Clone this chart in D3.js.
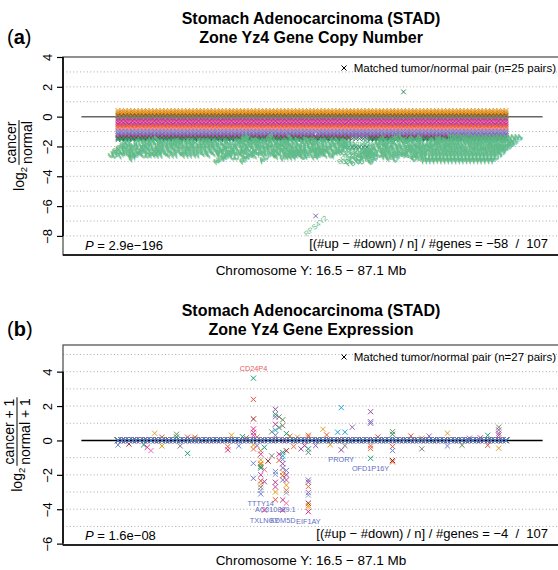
<!DOCTYPE html>
<html lang="en">
<head>
<meta charset="UTF-8">
<title>STAD Zone Yz4</title>
<script src="https://cdn.jsdelivr.net/npm/d3@7"></script>
<style>
  body { margin: 0; background: #fff; }
  text { font-family: "Liberation Sans", Arial, Helvetica, sans-serif; }
</style>
</head>
<body>
<svg width="558" height="570" id="mainsvg"></svg>
<script>
// genes in zone Yz4, in chromosome order (index 1..107)
const genes = [
  'USP9Y','DDX3Y','UTY','TMSB4Y','VCY','VCY1B','NLGN4Y','FAM41AY1','TTTY7','CDY2A',
  'CDY2B','HSFY1','HSFY2','TTTY9A','TTTY9B','TTTY8','TTTY21','TTTY22','TTTY23','KALP',
  'TTTY12','TTTY18','TTTY19','TTTY11','TTTY20','TTTY1','TTTY2','TTTY16','TBL1Y','PRKY',
  'TTTY10','NLGN4Y-AS1','RBMY2EP','TTTY13','CYorf15A','CYorf15B','TTTY15','CD24P4','RNU6-1070P','TTTY14',
  'TXLNGY','TTTY4','TTTY6','AC010889.1','TTTY5','KDM5D','TTTY17A','PRY2','RBMY1A1','RBMY1B',
  'RBMY1D','RBMY1E','EIF1AY','GYG2P1','RPS4Y2','PRY','RBMY1F','RBMY1J','TTTY3','TTTY3B',
  'CDY1B','PRORY','BPY2','DAZ1','DAZ2','TTTY4B','BPY2B','DAZ3','DAZ4','OFD1P16Y',
  'BPY2C','TTTY4C','CSPG4P1Y','GOLGA2P3Y','CDY1','TTTY17B','TTTY17C','RBMY2FP','ANOS2P','LINC00278',
  'SPRY3','VAMP7','IL9R','WASH6P','DDX11L16','CSF2RB2','TPTE2P4','AC006335.2','AC007244.1','AC009947.2',
  'AC010151.1','AC011297.1','AC012078.2','AC015978.1','AC016728.1','AC016752.1','AC017019.1','AC019058.1','AC023274.1','AC024038.1',
  'AC024183.1','AC025227.1','AC053503.1','AC064829.1','AC068123.1','AC068541.1','AC134882.1'
];

// one colour per matched pair
const pairColors = [
  '#E6A034','#F2B04A','#D2822A','#E69F00','#A65628','#8C5A3C','#6B8E5A','#7F7F7F','#C2379A',
  '#E7298A','#F06EB0','#B03A8C','#D0449E','#E8553A','#F26B38','#FC8D62','#E377C2','#6F83D6',
  '#8DA0CB','#7570B3','#9467BD','#984EA3','#A0282D','#2E8B57','#1B9E77','#1FA3DB','#5B6BC8'
];

// (a) copy number: segment level of each of the 25 pairs
const cnLevels = [
  0.42, 0.34, 0.26, 0.17, 0.09, 0.01, -0.08, -0.16, -0.25, -0.33, -0.42, -0.50, -0.58,
  -0.67, -0.75, -0.84, -0.92, -1.00, -1.09, -1.17, -1.26, -1.34, -1.42, -1.48, -1.55
];
// [gene index, pair, value] points off their pair level
const cnExceptions = [
  [79, 23, 1.66], [55, 19, -6.66],
  [63, 24, -2.05], [64, 24, -2.05], [65, 24, -2.05], [66, 24, -2.05], [67, 24, -2.05], [68, 24, -2.05], [69, 24, -2.05],
  [65, 22, -2.05], [66, 22, -2.05], [67, 22, -2.05], [68, 22, -2.05], [69, 22, -2.05]
];
const cnLabelCut = -1.4;

// (b) expression: every pair is 0 except these [gene index, pair, value]
const exprOutliers = [
  [1,17,-0.26],[4,22,-0.2],[8,24,-0.26],[9,9,-0.4],[10,10,-0.59],[11,0,0.42],[13,13,0.19],[13,3,-0.32],
  [17,6,0.36],[17,23,0.2],[18,7,-0.32],[20,13,0.19],[20,24,-0.75],[22,14,0.19],[22,1,0.12],
  [31,9,-0.55],[31,13,-0.36],[32,0,0.3],[34,17,-0.32],[35,24,0.22],[36,13,0.15],
  [38,24,3.62],[38,13,2.39],[38,22,1.25],[38,9,0.67],[38,8,0.47],[38,12,0.3],[38,3,-0.26],[38,14,-0.5],[38,17,-1.33],[38,19,-2.2],
  [39,2,0.2],[39,20,-0.3],
  [40,0,-1.13],[40,3,-1.33],[40,14,-1.4],[40,24,-1.52],[40,23,-1.6],[40,8,-2.0],[40,13,-2.35],[40,1,-2.55],[40,7,-2.72],[40,18,-2.9],[40,17,-3.11],[40,2,-0.6],[40,12,-0.8],
  [41,24,-0.4],[41,10,-1.7],[41,21,-2.4],[41,9,-4.05],
  [42,22,-1.2],[43,7,-0.9],[43,6,0.5],
  [44,21,1.81],[44,24,1.52],[44,20,1.37],[44,8,0.94],[44,25,0.6],[44,19,0.3],[44,17,-1.81],[44,18,-1.97],[44,11,-2.43],[44,12,-2.7],[44,3,-3.0],[44,13,-3.45],
  [45,7,1.37],[45,23,0.75],[45,9,-0.8],[45,13,-1.16],
  [46,6,1.2],[46,7,0.86],[46,24,-0.7],[46,25,-0.9],[46,17,-1.1],[46,21,-1.35],[46,20,-1.6],[46,0,-1.85],[46,13,-2.05],[46,19,-2.3],[46,8,-3.46],[46,9,-4.05],
  [47,24,0.4],[47,22,-0.6],[47,17,-1.75],[47,21,-2.0],[47,12,-2.3],[47,3,-2.6],[47,14,-2.9],[47,18,-3.05],[47,10,-3.65],
  [48,2,0.25],[49,14,-0.35],[50,0,0.2],[51,21,-0.49],[52,8,-0.3],
  [53,13,0.3],[53,0,0.2],[53,24,-0.49],[53,7,-0.69],[53,19,-2.3],[53,21,-2.43],[53,14,-2.68],[53,20,-3.03],[53,18,-3.18],[53,22,-3.65],[53,3,-3.79],[53,1,-3.88],[53,9,-4.14],
  [55,20,-0.3],[57,0,0.65],[58,13,0.32],[59,3,-0.25],[61,25,0.48],[62,25,1.91],[62,21,-0.55],[63,25,0.48],[63,7,-0.3],[65,20,0.77],
  [70,21,1.67],[70,20,1.09],[70,19,1.0],[70,13,-0.32],[70,14,-0.47],[70,24,-1.04],
  [72,13,0.2],
  [76,6,0.51],[76,23,0.36],[76,13,-0.36],[76,17,-0.59],[76,22,-1.17],[76,14,-1.25],
  [81,13,0.26],[84,0,0.13],[84,7,-0.49],[86,20,0.25],[91,0,0.42],[91,17,-0.32],[95,6,-0.28],[97,20,0.13],
  [100,9,0.15],[102,24,0.3],[102,13,-0.28],[105,6,0.77],[105,21,0.61],[105,19,0.42],[105,9,0.3],[105,0,-0.45]
];
const exprUpGenes = ['CD24P4'];
const exprDownGenes = ['TTTY14', 'TXLNGY', 'AC010889.1', 'KDM5D', 'EIF1AY', 'PRORY', 'OFD1P16Y'];

const cnTicks = [4, 2, 0, -2, -4, -6, -8];
const cnGrid = [3, 2, 1, -1, -2, -3, -4, -5, -6, -7, -8];
const exprTicks = [4, 2, 0, -2, -4, -6];
const exprGrid = [5, 4, 3, 2, 1, -1, -2, -3, -4, -5];

const cnTitle = ['Stomach Adenocarcinoma (STAD)', 'Zone Yz4 Gene Copy Number'];
const exprTitle = ['Stomach Adenocarcinoma (STAD)', 'Zone Yz4 Gene Expression'];
const cnLegend = 'Matched tumor/normal pair (n=25 pairs)';
const exprLegend = 'Matched tumor/normal pair (n=27 pairs)';
const cnP = '2.9e−196';
const exprP = '1.6e−08';
const cnRatio = '[(#up − #down) / n] / #genes = −58  /  107';
const exprRatio = '[(#up − #down) / n] / #genes = −4  /  107';
const xLabel = 'Chromosome Y: 16.5 − 87.1 Mb';

const svg = d3.select('#mainsvg');
const plotLeft = 63, plotRight = 560;
const xScale = d3.scaleLinear().domain([1, genes.length]).range([118, 506]);

svg.append('rect').attr('width', 558).attr('height', 570).attr('fill', '#fff');

function crossPath(s) {
  return `M${-s},${-s}L${s},${s}M${-s},${s}L${s},${-s}`;
}

function yLabel(cx, cy, num, den) {
  const g = svg.append('g').attr('transform', `translate(${cx},${cy}) rotate(-90)`);
  const log = g.append('text').attr('font-size', 14).attr('y', 4.8);
  log.append('tspan').text('log');
  log.append('tspan').attr('font-size', 9.5).attr('dy', 3).text('2');
  const lw = log.node().getComputedTextLength();
  const n = g.append('text').attr('font-size', 14).attr('text-anchor', 'middle').attr('y', -3).text(num);
  const d = g.append('text').attr('font-size', 14).attr('text-anchor', 'middle').attr('y', 13).text(den);
  const fw = Math.max(n.node().getComputedTextLength(), d.node().getComputedTextLength());
  const total = lw + 3 + fw;
  log.attr('x', -total / 2);
  const fc = -total / 2 + lw + 3 + fw / 2;
  n.attr('x', fc);
  d.attr('x', fc);
  g.append('line').attr('x1', fc - fw / 2 - 1).attr('x2', fc + fw / 2 + 1)
    .attr('y1', 0).attr('y2', 0).attr('stroke', '#000').attr('stroke-width', 1);
}

function drawPanel(p) {
  const yScale = d3.scaleLinear().domain(p.domain).range([p.bottom, p.top]);
  const g = svg.append('g');

  // titles and panel letter
  g.selectAll('.title').data(p.title).join('text')
    .attr('x', 311).attr('y', (d, i) => p.titleY + i * 19)
    .attr('text-anchor', 'middle').attr('font-size', 16).attr('font-weight', 'bold')
    .text(d => d);
  const letter = g.append('text').attr('x', 7).attr('y', p.letterY).attr('font-size', 20);
  letter.append('tspan').text('(');
  letter.append('tspan').attr('font-weight', 'bold').text(p.letter);
  letter.append('tspan').text(')');

  // dotted grid
  g.selectAll('.grid').data(p.grid).join('line')
    .attr('x1', plotLeft).attr('x2', plotRight)
    .attr('y1', d => yScale(d)).attr('y2', d => yScale(d))
    .attr('stroke', '#aaa').attr('stroke-width', 1).attr('stroke-dasharray', '1,2.4');

  g.append('line')
    .attr('x1', xScale(-9)).attr('x2', xScale(117))
    .attr('y1', yScale(0)).attr('y2', yScale(0))
    .attr('stroke', p.zeroColor).attr('stroke-width', 1.5);

  // points
  g.selectAll('.pt').data(p.points).join('path')
    .attr('d', crossPath(p.markSize))
    .attr('transform', d => `translate(${xScale(d.gene)},${yScale(d.value)})`)
    .attr('fill', 'none').attr('stroke', d => pairColors[d.pair]).attr('stroke-width', 1);

  // gene labels
  if (p.labelsRotated) {
    g.selectAll('.glab').data(p.labels).join('text')
      .attr('transform', d => `translate(${xScale(d.gene)},${yScale(d.value) + 10}) rotate(-40)`)
      .attr('text-anchor', 'middle').attr('dominant-baseline', 'central')
      .attr('font-size', 7.3).attr('fill', '#5DBB88')
      .text(d => genes[d.gene - 1]);
  } else {
    g.selectAll('.glab').data(p.labels).join('text')
      .attr('x', d => xScale(d.gene))
      .attr('y', d => yScale(d.value) + (d.up ? -10 : 10))
      .attr('text-anchor', 'middle').attr('dominant-baseline', 'central')
      .attr('font-size', 7.3).attr('fill', d => d.up ? '#E8585A' : '#5F6FC4')
      .text(d => genes[d.gene - 1]);
  }

  // box and axis
  g.append('rect').attr('x', plotLeft).attr('y', p.top)
    .attr('width', plotRight - plotLeft).attr('height', p.bottom - p.top)
    .attr('fill', 'none').attr('stroke', '#555').attr('stroke-width', 1.3);
  g.append('line').attr('x1', plotLeft).attr('x2', plotRight)
    .attr('y1', p.bottom).attr('y2', p.bottom).attr('stroke', '#000').attr('stroke-width', 1.6);

  const yAxis = d3.axisLeft(yScale).tickValues(p.ticks).tickSize(6)
    .tickFormat(d => d < 0 ? '−' + Math.abs(d) : String(d));
  const ag = g.append('g').attr('transform', `translate(${plotLeft},0)`).call(yAxis);
  ag.select('.domain').remove();
  ag.selectAll('.tick line').attr('stroke', '#000').attr('stroke-width', 1.2);
  ag.selectAll('.tick text')
    .attr('x', null).attr('y', null).attr('dy', null)
    .attr('transform', 'translate(-11,0) rotate(-90)')
    .attr('text-anchor', 'middle')
    .attr('font-size', 13).attr('font-family', '"Liberation Sans", Arial, sans-serif').attr('fill', '#000');
  ag.append('line').attr('x1', 0).attr('x2', 0)
    .attr('y1', yScale(d3.max(p.ticks))).attr('y2', yScale(d3.min(p.ticks)))
    .attr('stroke', '#000').attr('stroke-width', 1.6);

  // legend
  g.append('path').attr('d', crossPath(2.5))
    .attr('transform', `translate(${p.legendX},${p.legendY - 4})`)
    .attr('stroke', '#000').attr('fill', 'none');
  g.append('text').attr('x', 556).attr('y', p.legendY).attr('text-anchor', 'end')
    .attr('font-size', 11.5).text(p.legend);

  // stats
  const pt = g.append('text').attr('x', 85).attr('y', p.bottom - 5).attr('font-size', 13);
  pt.append('tspan').attr('font-style', 'italic').text('P');
  pt.append('tspan').text(' = ' + p.pValue);
  g.append('text').attr('x', 548).attr('y', p.bottom - 7).attr('text-anchor', 'end')
    .attr('font-size', 13).style('white-space', 'pre').text(p.ratio);

  g.append('text').attr('x', 311).attr('y', p.bottom + 20).attr('text-anchor', 'middle')
    .attr('font-size', 13.5).text(xLabel);

  yLabel(p.labelX, (p.top + p.bottom) / 2, p.num, p.den);
}

// build point tables
const cnExc = new Map(cnExceptions.map(d => [d[0] + '-' + d[1], d[2]]));
const cnPoints = [];
cnLevels.forEach((lev, k) => {
  genes.forEach((name, i) => {
    const key = (i + 1) + '-' + k;
    cnPoints.push({gene: i + 1, pair: k, value: cnExc.has(key) ? cnExc.get(key) : lev});
  });
});
const cnLabels = cnPoints.filter(d => d.value < cnLabelCut);

const exOut = new Map(exprOutliers.map(d => [d[0] + '-' + d[1], d[2]]));
const exprPoints = [];
pairColors.forEach((c, k) => {
  genes.forEach((name, i) => {
    const key = (i + 1) + '-' + k;
    exprPoints.push({gene: i + 1, pair: k, value: exOut.has(key) ? exOut.get(key) : 0});
  });
});
const exprLabels = [];
exprUpGenes.forEach(name => {
  const gi = genes.indexOf(name) + 1;
  exprLabels.push({gene: gi, up: true, value: d3.max(exprPoints.filter(d => d.gene === gi), d => d.value)});
});
exprDownGenes.forEach(name => {
  const gi = genes.indexOf(name) + 1;
  exprLabels.push({gene: gi, up: false, value: d3.min(exprPoints.filter(d => d.gene === gi), d => d.value)});
});

drawPanel({
  top: 57, bottom: 255, domain: [-9.28, 4.0],
  title: cnTitle, titleY: 24, letter: 'a', letterY: 44,
  grid: cnGrid, ticks: cnTicks, zeroColor: '#666', markSize: 2.3,
  points: cnPoints, labels: cnLabels, labelsRotated: true,
  legend: cnLegend, legendX: 344, legendY: 72,
  pValue: cnP, ratio: cnRatio, labelX: 19, num: 'cancer', den: 'normal'
});

drawPanel({
  top: 345, bottom: 545, domain: [-6.08, 5.55],
  title: exprTitle, titleY: 316, letter: 'b', letterY: 336,
  grid: exprGrid, ticks: exprTicks, zeroColor: '#000', markSize: 2.6,
  points: exprPoints, labels: exprLabels, labelsRotated: false,
  legend: exprLegend, legendX: 344, legendY: 361,
  pValue: exprP, ratio: exprRatio, labelX: 17, num: 'cancer + 1', den: 'normal + 1'
});
</script>
</body>
</html>
